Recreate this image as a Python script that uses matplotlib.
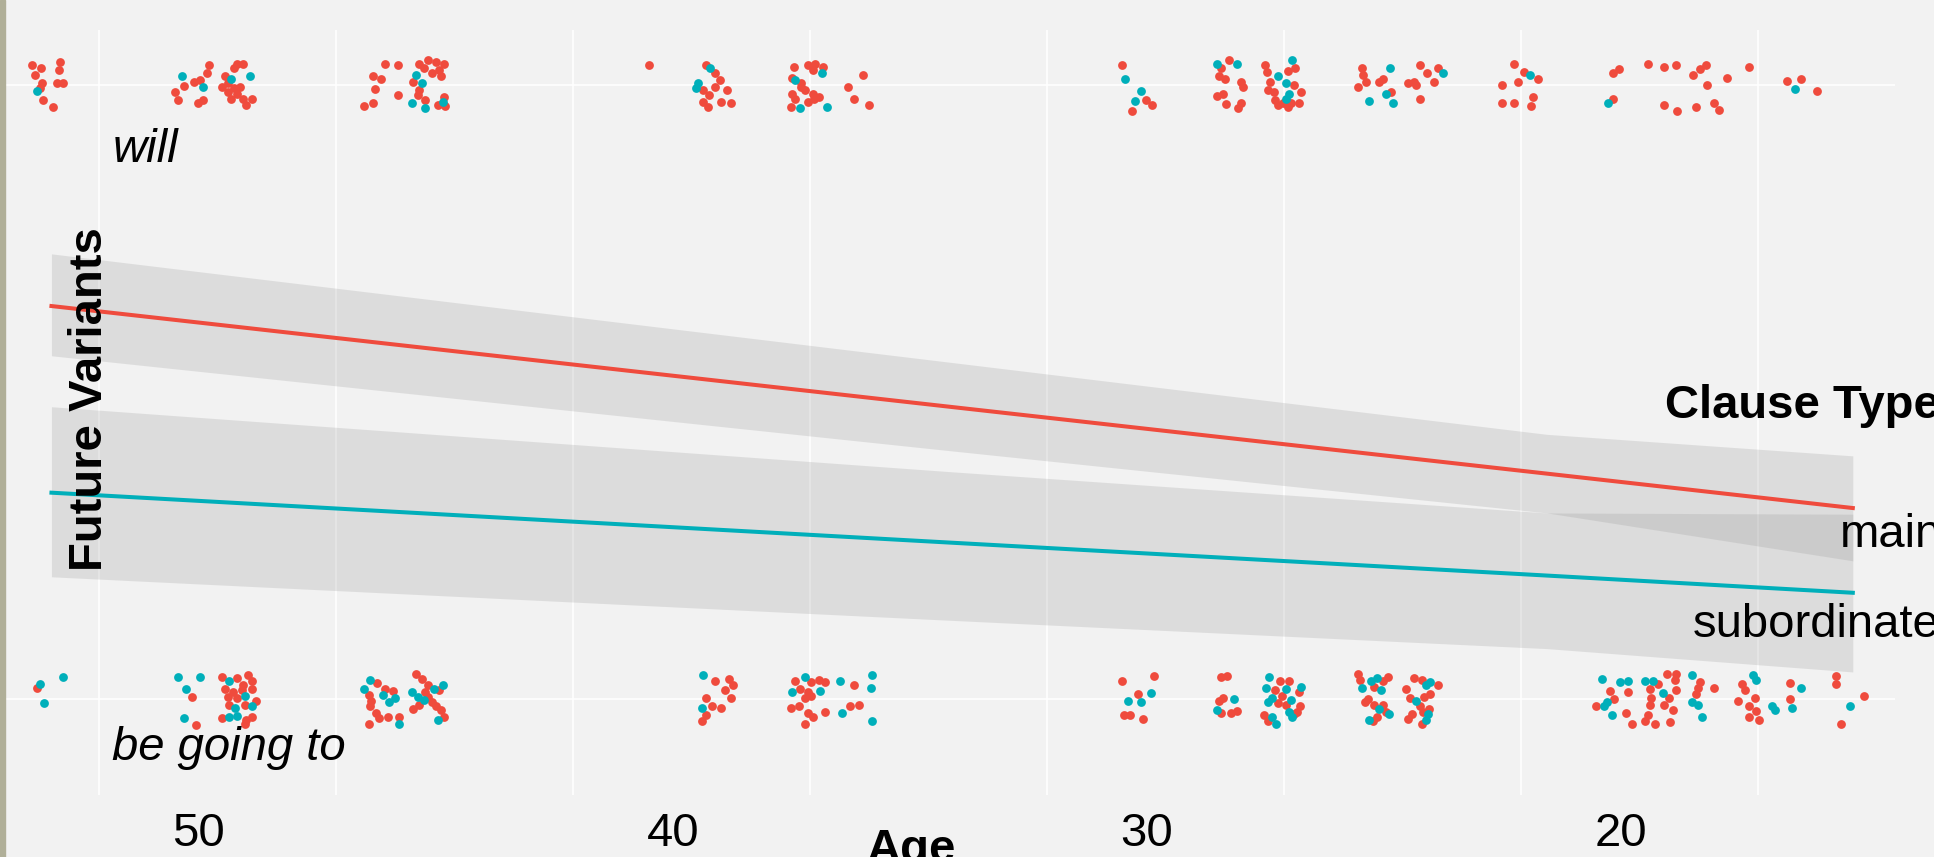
import numpy as np
import matplotlib
matplotlib.use('Agg')
import matplotlib.pyplot as plt
from matplotlib.transforms import ScaledTranslation
from matplotlib.patches import Rectangle

plt.rcParams['font.family'] = ['Liberation Sans', 'DejaVu Sans']

will_main = [(51.41, .033), (51.22, .027), (50.81, .038), (50.85, .024), (51.35, .016), (51.20, .003),
             (50.89, .003), (50.75, .003), (51.18, -.024), (50.96, -.035), (51.24, -.005),
             (48.21, -.002), (48.39, -.011), (48.32, -.024), (47.99, .005), (47.86, .008), (47.67, .033),
             (47.71, .019), (47.90, -.030), (47.80, -.024), (47.08, .035), (46.95, .035), (47.15, .027),
             (47.34, .014), (47.28, .003), (47.15, -.005), (47.28, -.011), (47.08, -.014), (47.21, -.022),
             (46.95, -.022), (46.76, -.022), (46.89, -.033), (47.02, -.003), (47.41, -.003),
             (43.96, .035), (43.70, .033), (44.22, .014), (44.05, .009), (44.18, -.007), (44.41, -.034),
             (44.22, -.030), (43.70, -.016), (43.11, -.024), (42.85, -.033), (42.70, -.034), (43.24, .035),
             (43.05, .041), (42.88, .038), (42.72, .035), (43.14, .027), (42.83, .024), (42.98, .019),
             (43.37, .005), (43.24, -.008), (43.27, -.016), (42.79, .014), (42.72, -.019),
             (38.40, .033),
             (37.19, .033), (37.00, .019), (37.26, -.008), (37.00, -.003), (36.89, .008), (36.74, -.008),
             (37.26, -.027), (37.15, -.035), (36.87, -.027), (36.67, -.030), (37.13, -.016),
             (35.33, .030), (35.05, .033), (34.89, .035), (34.72, .030), (34.94, .024), (35.37, .011),
             (35.18, .003), (35.11, -.008), (35.37, -.014), (35.31, -.022), (35.18, -.003), (34.94, -.014),
             (34.81, -.019), (35.05, -.027), (35.40, -.035), (34.92, -.022),
             (33.88, .016), (34.20, -.003), (34.07, -.022), (33.75, -.033),
             (28.41, .033), (27.92, -.024), (27.79, -.033), (28.20, -.042),
             (26.16, .041), (26.33, .027), (26.38, .014), (26.25, .009), (25.90, .005), (25.86, -.004),
             (26.42, -.018), (26.29, -.015), (26.23, -.031), (25.90, -.029), (25.97, -.038),
             (25.41, .033), (25.35, .022), (24.76, .027), (24.92, .023), (25.29, .005), (24.79, .000),
             (25.34, -.008), (25.21, -.012), (24.64, -.012), (25.18, -.024), (25.03, -.029), (24.86, -.030),
             (24.69, -.029), (25.12, -.033), (24.92, -.035),
             (23.36, .027), (23.34, .016), (23.26, .005), (23.43, -.003), (23.00, .005), (22.91, .009),
             (22.74, -.012), (22.39, .004), (22.26, .005), (22.22, .000), (22.13, .033), (21.99, .019),
             (21.83, .005), (21.74, .027), (22.13, -.023),
             (20.14, .035), (19.94, .022), (19.65, .009), (20.07, .005), (20.40, .000), (20.40, -.029),
             (20.14, -.029), (19.79, -.034), (19.75, -.020),
             (18.06, .019), (17.94, .026), (18.06, -.023), (17.31, .035), (16.99, .029), (16.73, .033),
             (16.38, .016), (16.23, .026), (16.10, .033), (16.08, .000), (15.66, .012), (15.19, .029),
             (16.99, -.033), (16.70, -.042), (16.31, -.035), (15.92, -.029), (15.82, -.040),
             (14.39, .007), (14.10, .009), (13.76, -.009)]
will_sub = [(51.31, -.009), (48.24, .015), (47.80, -.003), (47.21, .009), (46.82, .014),
            (43.40, -.030), (43.11, -.038), (42.75, -.027), (43.31, .016), (43.18, .003),
            (37.10, .027), (37.36, .003), (37.41, -.005),
            (34.75, .019), (35.31, .008), (35.20, -.038), (34.63, -.035),
            (28.36, .009), (28.02, -.009), (28.15, -.026), (26.42, .035), (25.99, .034),
            (24.82, .040), (25.12, .014), (24.95, .004), (24.90, -.014), (24.95, -.023),
            (22.77, .027), (22.84, -.014), (23.21, -.026), (22.71, -.029), (21.65, .019),
            (19.82, .016), (18.16, -.029), (14.23, -.007)]
going_main = [(51.31, .018),
              (48.03, .003), (47.95, -.042), (47.41, .035), (47.08, .034), (46.86, .039), (46.78, .029),
              (46.95, .023), (47.34, .017), (47.17, .012), (46.99, .015), (46.78, .017), (47.28, .004),
              (47.08, .001), (46.69, -.003), (47.25, -.010), (46.91, -.009), (47.41, -.031), (46.89, -.034),
              (46.78, -.030), (46.91, -.040),
              (44.13, .026), (43.96, .016), (43.79, .013), (44.31, .007), (44.26, -.003), (44.28, -.012),
              (44.15, -.023), (44.09, -.031), (43.89, -.029), (43.66, -.029), (44.31, -.040), (43.31, .040),
              (43.18, .033), (43.05, .023), (42.83, .015), (43.11, .012), (42.98, -.005), (42.88, -.012),
              (43.37, -.016), (43.24, -.010), (42.79, -.018), (42.72, -.029), (43.05, .004),
              (37.00, .029), (36.71, .033), (36.63, .023), (36.80, .015), (37.19, .001), (36.67, .002),
              (37.06, -.012), (36.87, -.014), (37.19, -.026), (37.28, -.036),
              (35.31, .029), (34.98, .027), (34.81, .031), (34.68, .027), (35.20, .017), (35.05, .012),
              (35.11, .001), (34.98, .005), (35.40, -.015), (35.24, -.012), (35.05, -.023), (35.11, -.040),
              (34.94, -.030), (34.68, -.021), (34.07, .023), (34.16, -.012), (33.97, -.010),
              (28.41, .029), (27.75, .038), (28.07, .008), (28.37, -.026), (28.24, -.026), (27.98, -.033),
              (26.33, .035), (26.20, .038), (26.29, .001), (26.36, -.003), (26.33, -.023), (26.12, -.023),
              (25.99, -.020),
              (25.08, .029), (24.90, .029), (25.18, .015), (24.69, .011), (25.05, .005), (25.12, -.007),
              (24.95, -.009), (24.66, -.011), (24.73, -.021), (25.42, -.026), (25.34, -.036), (24.79, -.025),
              (23.43, .040), (23.39, .031), (22.91, .029), (22.80, .035), (23.10, .020), (23.23, .000),
              (23.30, -.005), (23.10, -.010), (22.91, -.010), (23.04, -.030), (23.13, -.036), (22.84, -.021),
              (22.43, .017), (22.26, .034), (22.09, .031), (21.74, .022), (22.35, .002), (22.04, .004),
              (21.91, .008), (22.13, -.012), (22.06, -.021), (22.30, -.025), (22.39, -.033), (22.09, -.040),
              (21.93, -.016),
              (18.13, .013), (18.03, .000), (18.42, -.012), (17.74, .011), (17.79, -.023), (17.66, -.040),
              (17.12, .024), (16.92, .040), (16.73, .040), (16.75, .031), (17.28, .017), (17.25, .001),
              (17.28, -.010), (17.31, -.026), (17.38, -.036), (17.18, -.040), (16.88, .001), (16.99, -.009),
              (16.73, .015), (16.79, -.018), (16.86, -.037), (16.27, .018), (16.23, .027), (16.31, .008),
              (15.92, .018),
              (15.33, .024), (15.28, .015), (15.43, -.003), (15.06, .001), (15.19, -.012), (15.04, -.020),
              (15.19, -.030), (14.97, -.034),
              (14.32, .026), (14.32, .000), (13.35, .038), (13.35, .024), (12.76, .005), (13.24, -.040)]
going_sub = [(51.24, .024), (50.76, .035), (51.15, -.007),
             (48.32, .035), (47.86, .035), (48.16, .016), (48.21, -.031), (47.25, .029), (46.91, .005),
             (47.12, -.015), (46.76, -.012), (47.25, -.029), (47.08, -.027),
             (44.28, .031), (44.41, .016), (44.00, .007), (43.87, -.005), (43.76, .001), (43.66, -.040),
             (43.40, .012), (43.27, .004), (42.92, .017), (42.75, .023), (43.14, -.002), (42.85, -.034),
             (37.26, .039), (37.28, -.014),
             (35.11, .035), (35.37, .012), (34.79, .013), (34.37, .029), (34.33, -.023), (33.68, .039),
             (33.72, .018), (33.68, -.036),
             (27.81, .009), (28.28, -.003), (28.02, -.005), (26.06, .000), (26.42, -.018),
             (25.31, .035), (25.38, .018), (24.95, .016), (24.64, .020), (25.25, .001), (25.34, -.005),
             (24.86, -.002), (24.90, -.021), (25.25, -.029), (25.16, -.040), (24.82, -.030),
             (23.17, .029), (23.04, .034), (23.36, .018), (22.95, .015), (22.99, -.016), (23.21, -.034),
             (22.78, -.025), (22.00, .023), (21.91, .028), (22.22, -.003), (21.96, -.025), (22.00, -.034),
             (18.29, .033), (18.19, -.005), (18.25, -.012), (18.09, -.026), (17.92, .027), (17.74, .029),
             (17.38, .029), (17.22, .029), (16.40, .039), (17.01, .009), (16.40, -.005), (16.27, -.010),
             (16.18, -.030),
             (15.10, .039), (15.04, .031), (14.65, -.018), (14.71, -.012),
             (14.10, .018), (14.28, -.014), (13.06, -.011)]

# fitted probability of "will" with confidence band
fit_age = [51, 32, 19.45, 13]
main_fit = [0.640, 0.4755, 0.367, 0.311]
main_lo = [0.559, 0.404, 0.303, 0.225]
main_hi = [0.725, 0.548, 0.431, 0.396]
sub_fit = [0.336, 0.2545, 0.201, 0.173]
sub_lo = [0.199, 0.128, 0.082, 0.044]
sub_hi = [0.476, 0.370, 0.303, 0.301]

x_ticks = [50, 40, 30, 20]
red = '#EF4B3D'
teal = '#00AFBA'
bg = '#F2F2F2'
W, H = 1934, 857

fig = plt.figure(figsize=(W / 100, H / 100), dpi=100, facecolor=bg)
ax = fig.add_axes([5 / W, 62 / H, 1890 / W, 765 / H])
ax.set_facecolor(bg)

ax.fill_between(fit_age, main_lo, main_hi, color='#999999', alpha=0.24, lw=0)
ax.fill_between(fit_age, sub_lo, sub_hi, color='#999999', alpha=0.24, lw=0)
ax.plot(fit_age, main_fit, color=red, lw=2.9)
ax.plot(fit_age, sub_fit, color=teal, lw=2.9)

for pts, base, col in [(will_main, 1, red), (going_main, 0, red),
                       (will_sub, 1, teal), (going_sub, 0, teal)]:
    a = np.array(pts)
    ax.scatter(a[:, 0], base + a[:, 1], s=40, color=col, lw=0, zorder=3)

ax.set_xlim(51.98, 12.11)
ax.set_ylim(-0.1564, 1.0896)
ax.set_xticks(x_ticks, [str(t) for t in x_ticks], fontsize=34)
ax.set_xticks([45, 35, 25, 15], minor=True)
ax.set_yticks([0, 1], ['', ''])
ax.tick_params(which='both', length=0, pad=12)
ax.grid(which='both', axis='x', color='white', lw=1.2)
ax.grid(which='major', axis='y', color='white', lw=1.2)
ax.set_axisbelow(True)
for s in ax.spines.values():
    s.set_visible(False)
# tick labels sit to the right of their gridlines in the original
for lab in ax.get_xticklabels():
    lab.set_transform(lab.get_transform() + ScaledTranslation(1.0, 0, fig.dpi_scale_trans))

fig.text(113 / W, 1 - 162 / H, 'will', fontsize=34, style='italic', va='baseline')
fig.text(112 / W, 1 - 760 / H, 'be going to', fontsize=34, style='italic', va='baseline')
fig.text(102 / W, 1 - 399 / H, 'Future Variants', fontsize=34, fontweight='bold',
         rotation=90, rotation_mode='anchor', ha='center', va='baseline')
fig.text(912 / W, 1 - 862 / H, 'Age', fontsize=34, fontweight='bold', ha='center', va='baseline')
fig.text(1665 / W, 1 - 418 / H, 'Clause Type', fontsize=34, fontweight='bold', va='baseline')
fig.text(1840 / W, 1 - 547 / H, 'main', fontsize=34, va='baseline')
fig.text(1693 / W, 1 - 637 / H, 'subordinate', fontsize=34, va='baseline')

fig.patches.append(Rectangle((0, 0), 5 / W, 1, transform=fig.transFigure, color='#B0AF98'))

fig.savefig('out.png', dpi=100, facecolor=bg)
